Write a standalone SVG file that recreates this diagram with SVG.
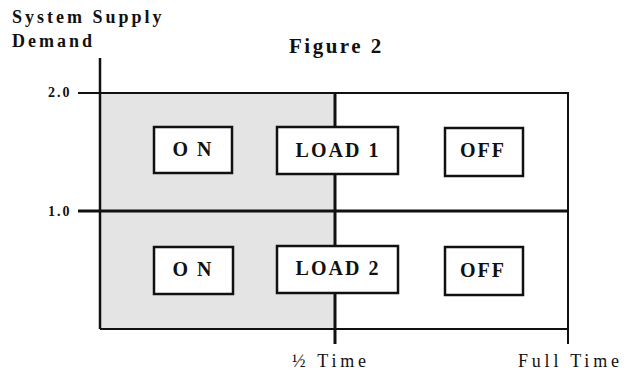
<svg xmlns="http://www.w3.org/2000/svg" width="627" height="373" viewBox="0 0 627 373">
<style>
.b{font-family:"Liberation Serif","Times New Roman",serif;font-weight:bold;fill:#111}
.r{font-family:"Liberation Serif","Times New Roman",serif;fill:#111}
.box{fill:#fff;stroke:#111;stroke-width:2.5}
.ln{stroke:#111;fill:none}
.lbl{font-size:20px;letter-spacing:2px;text-anchor:middle}
</style>
<rect width="627" height="373" fill="#fff"/>
<g id="chart">
<rect x="100" y="93" width="235" height="236" fill="#e4e4e4"/>
<g id="connectors">
<line class="ln" x1="100" y1="58" x2="100" y2="329" stroke-width="2.5"/>
<line class="ln" x1="78" y1="93" x2="569" y2="93" stroke-width="2"/>
<line class="ln" x1="78" y1="211" x2="569" y2="211" stroke-width="3"/>
<line class="ln" x1="100" y1="329" x2="569" y2="329" stroke-width="2"/>
<line class="ln" x1="335" y1="93" x2="335" y2="344" stroke-width="3"/>
<line class="ln" x1="568" y1="93" x2="568" y2="344" stroke-width="2"/>
</g>
</g>
<text class="b" x="12" y="23" font-size="18" letter-spacing="3">System Supply</text>
<text class="b" x="12" y="47" font-size="18" letter-spacing="3">Demand</text>
<text class="b" x="289" y="53" font-size="21" letter-spacing="2.5">Figure 2</text>
<text class="b" x="48" y="97" font-size="14" letter-spacing="2">2.0</text>
<text class="b" x="48" y="216" font-size="14" letter-spacing="2">1.0</text>
<text class="r" x="292" y="367" font-size="18" letter-spacing="3.8">½ Time</text>
<text class="r" x="518" y="367" font-size="18" letter-spacing="3.8">Full Time</text>
<g id="on1"><rect class="box" x="154" y="127" width="78" height="46"/><text class="b lbl" x="193" y="156">O N</text></g>
<g id="load1"><rect class="box" x="277" y="127" width="121" height="47"/><text class="b lbl" x="338" y="157">LOAD 1</text></g>
<g id="off1"><rect class="box" x="445" y="128" width="78" height="48"/><text class="b lbl" x="483" y="157">OFF</text></g>
<g id="on2"><rect class="box" x="154" y="247" width="79" height="47"/><text class="b lbl" x="193" y="276">O N</text></g>
<g id="load2"><rect class="box" x="277" y="246" width="121" height="47"/><text class="b lbl" x="338" y="275">LOAD 2</text></g>
<g id="off2"><rect class="box" x="445" y="247" width="78" height="48"/><text class="b lbl" x="483" y="277">OFF</text></g>
</svg>
